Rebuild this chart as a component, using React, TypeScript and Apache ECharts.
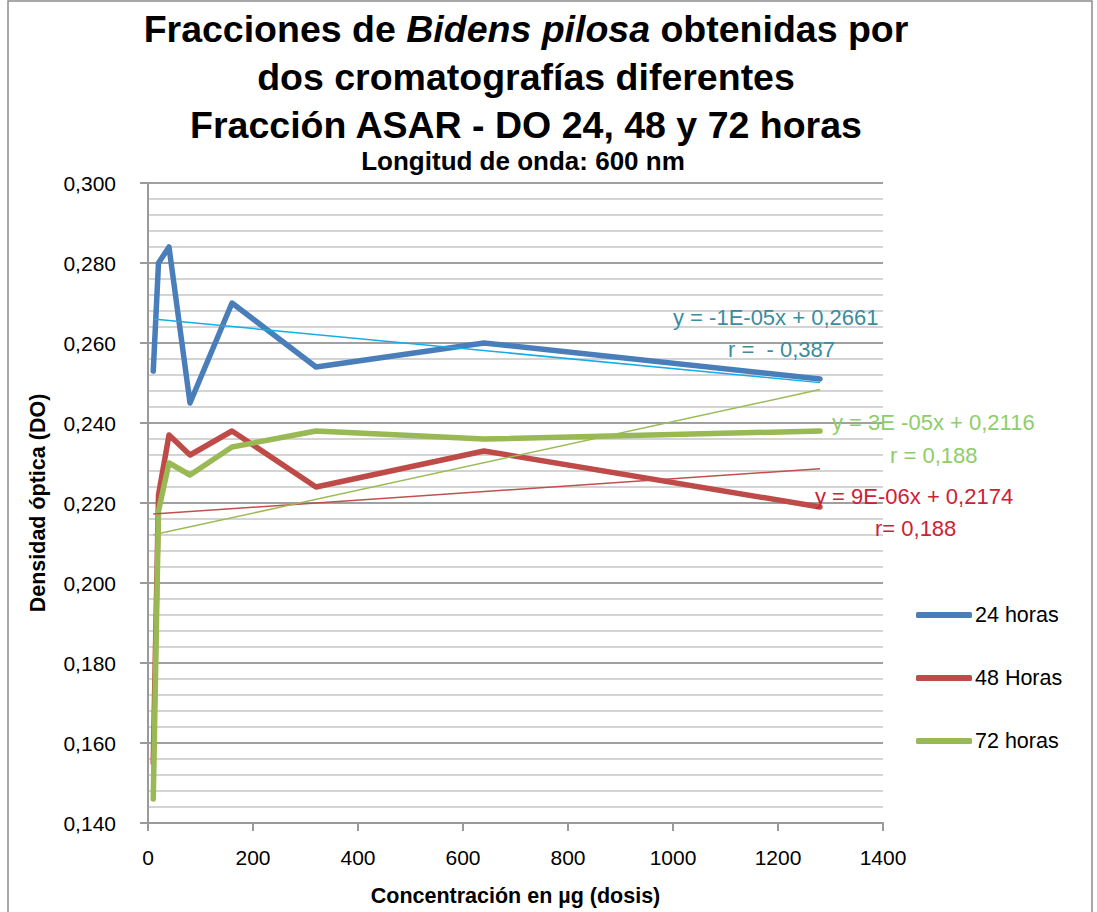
import React, { useEffect, useRef } from "react";
import * as echarts from "echarts";

const doses = [10, 20, 40, 80, 160, 320, 640, 1280];
const do24 = [0.253, 0.28, 0.284, 0.245, 0.27, 0.254, 0.26, 0.251];
const do48 = [0.155, 0.222, 0.237, 0.232, 0.238, 0.224, 0.233, 0.219];
const do72 = [0.146, 0.218, 0.23, 0.227, 0.234, 0.238, 0.236, 0.238];
const seriesNames = ["24 horas", "48 Horas", "72 horas"];
const xTicks = [0, 200, 400, 600, 800, 1000, 1200, 1400];

const FONT = "Liberation Sans, Arial, Helvetica, sans-serif";

function fit(xs: number[], ys: number[]) {
  const n = xs.length;
  const mx = xs.reduce((a, b) => a + b, 0) / n;
  const my = ys.reduce((a, b) => a + b, 0) / n;
  let sxy = 0;
  let sxx = 0;
  for (let i = 0; i < n; i++) {
    sxy += (xs[i] - mx) * (ys[i] - my);
    sxx += (xs[i] - mx) * (xs[i] - mx);
  }
  const b = sxy / sxx;
  const a = my - b * mx;
  const x0 = xs[0];
  const x1 = xs[n - 1];
  return [
    [x0, a + b * x0],
    [x1, a + b * x1],
  ];
}

export default function App() {
  const ref = useRef<HTMLDivElement>(null);
  useEffect(() => {
    if (!ref.current) return;
    document.documentElement.style.overflow = "hidden";
    document.body.style.margin = "0";
    document.body.style.overflow = "hidden";
    const chart = echarts.init(ref.current, undefined, { renderer: "svg", width: 1097, height: 912 });
    const pair = (ys: number[]) => doses.map((x, i) => [x, ys[i]]);
    const colors = ["#4a7ebb", "#be4b48", "#98b954"];
    const trendColors = ["#14aee6", "#c0504d", "#9bbb59"];
    const all = [do24, do48, do72];
    const mainSeries = all.map((ys, i) => ({
      name: seriesNames[i],
      type: "line",
      data: pair(ys),
      symbol: "none",
      lineStyle: { color: colors[i], width: 5.5, cap: "round", join: "round" },
      itemStyle: { color: colors[i] },
      z: 3,
    }));
    const trendSeries = all.map((ys, i) => ({
      name: "trend" + i,
      type: "line",
      data: fit(doses, ys),
      symbol: "none",
      lineStyle: { color: trendColors[i], width: 1.5 },
      itemStyle: { color: trendColors[i] },
      z: 4,
    }));
    const ann = (text: string, x: number, y: number, fill: string) => ({
      type: "text",
      x,
      y,
      style: { text, fill, font: `22px ${FONT}`, textVerticalAlign: "middle" },
      z: 10,
    });
    chart.setOption({
      animation: false,
      backgroundColor: "#ffffff",
      title: [
        {
          text: "{b|Fracciones de }{i|Bidens pilosa}{b| obtenidas por}\n{b|dos cromatografías diferentes}\n{b|Fracción ASAR - DO 24, 48 y 72 horas}",
          left: 526,
          top: 5,
          padding: 0,
          textAlign: "center",
          textStyle: {
            rich: {
              b: { fontFamily: FONT, fontWeight: "bold", fontSize: 37.5, lineHeight: 48, color: "#000" },
              i: { fontFamily: FONT, fontWeight: "bold", fontStyle: "italic", fontSize: 37.5, lineHeight: 48, color: "#000" },
            },
          },
        },
        {
          text: "Longitud de onda: 600 nm",
          left: 523,
          top: 148,
          padding: 0,
          textAlign: "center",
          textStyle: { fontFamily: FONT, fontWeight: "bold", fontSize: 26, color: "#000" },
        },
      ],
      legend: {
        data: seriesNames,
        orient: "vertical",
        left: 916,
        top: 604,
        padding: 0,
        itemWidth: 56,
        itemHeight: 6,
        itemGap: 41,
        icon: "roundRect",
        textStyle: { fontFamily: FONT, fontSize: 21.5, color: "#000", padding: [0, 0, 0, -2] },
      },
      grid: { left: 148, right: 214, top: 183, bottom: 80 },
      xAxis: {
        type: "value",
        min: xTicks[0],
        max: xTicks[xTicks.length - 1],
        interval: 200,
        name: "Concentración en µg (dosis)",
        nameLocation: "middle",
        nameGap: 62,
        nameTextStyle: { fontFamily: FONT, fontWeight: "bold", fontSize: 21.5, color: "#000" },
        axisLine: { show: true, lineStyle: { color: "#9a9a9a", width: 2 } },
        axisTick: { show: true, length: 8, lineStyle: { color: "#9a9a9a", width: 2 } },
        axisLabel: {
          fontFamily: FONT,
          fontSize: 21,
          color: "#000",
          margin: 24,
          formatter: (v: number) => String(v),
        },
        splitLine: { show: false },
      },
      yAxis: {
        type: "value",
        min: 0.14,
        max: 0.3,
        interval: 0.02,
        name: "Densidad óptica (DO)",
        nameLocation: "middle",
        nameGap: 99,
        nameTextStyle: { fontFamily: FONT, fontWeight: "bold", fontSize: 21.5, color: "#000" },
        axisLine: { show: true, lineStyle: { color: "#9a9a9a", width: 2 } },
        axisTick: { show: true, length: 8, lineStyle: { color: "#9a9a9a", width: 2 } },
        axisLabel: {
          fontFamily: FONT,
          fontSize: 21,
          color: "#000",
          margin: 32,
          formatter: (v: number) => v.toFixed(3).replace(".", ","),
        },
        splitLine: { show: true, lineStyle: { color: "#a0a0a0", width: 2 } },
        minorTick: { show: false, splitNumber: 5 },
        minorSplitLine: { show: true, lineStyle: { color: "#c6c6c6", width: 1.5 } },
      },
      series: [...mainSeries, ...trendSeries],
      graphic: [
        {
          type: "rect",
          shape: { x: 8, y: 1, width: 1084, height: 930 },
          style: { fill: "none", stroke: "#8c8c8c", lineWidth: 1.5 },
          silent: true,
        },
        ann("y = -1E-05x + 0,2661", 673, 317, "#3a8ca0"),
        ann("r =  - 0,387", 728, 349, "#3a8ca0"),
        ann("y = 3E -05x + 0,2116", 832, 422, "#8dcd6a"),
        ann("r = 0,188", 890, 455, "#8dcd6a"),
        ann("y = 9E-06x + 0,2174", 815, 496, "#cc2233"),
        ann("r= 0,188", 875, 528, "#cc2233"),
      ],
    });
    return () => chart.dispose();
  }, []);
  return (
    <div
      ref={ref}
      style={{ position: "absolute", left: 0, top: 0, width: 1097, height: 912, overflow: "hidden" }}
    />
  );
}
